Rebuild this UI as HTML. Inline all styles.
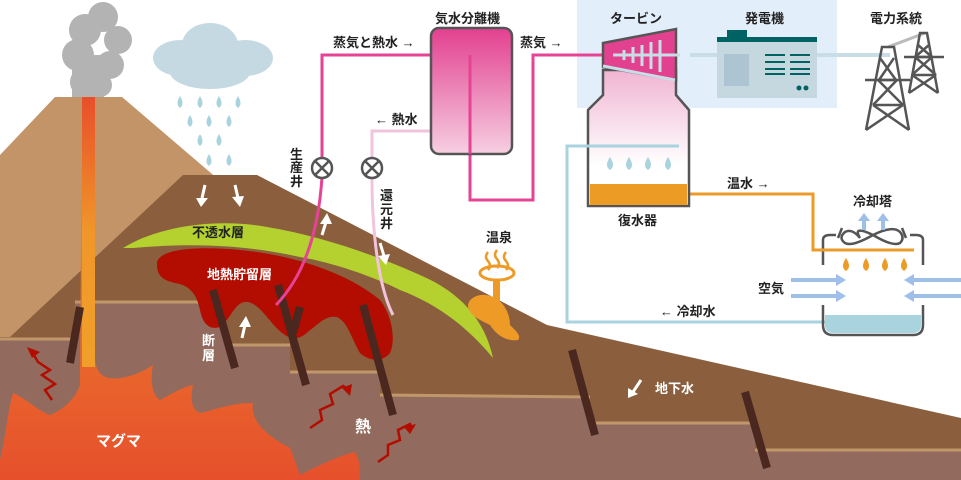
<!DOCTYPE html>
<html><head><meta charset="utf-8"><style>
html,body{margin:0;padding:0;background:#fff;}
svg{display:block}
text{font-family:"Liberation Sans","Noto Sans CJK JP",sans-serif;font-weight:bold;font-size:13px;fill:#222}
.w{fill:#fff}
</style></head><body>
<svg width="961" height="480" viewBox="0 0 961 480" xmlns="http://www.w3.org/2000/svg">
<defs>
<linearGradient id="sep" x1="0" y1="0" x2="0" y2="1"><stop offset="0" stop-color="#e2408f"/><stop offset="1" stop-color="#f6cfe2"/></linearGradient>
<linearGradient id="cond" x1="0" y1="0" x2="0" y2="1"><stop offset="0" stop-color="#f0b4d2"/><stop offset="0.7" stop-color="#fff"/></linearGradient>
<linearGradient id="cond2" x1="0" y1="0" x2="0" y2="1"><stop offset="0" stop-color="#e84f2a"/><stop offset="0.5" stop-color="#f0962a"/><stop offset="1" stop-color="#f0a02a"/></linearGradient>
<linearGradient id="mag" x1="0" y1="0" x2="0" y2="1"><stop offset="0" stop-color="#f0962a"/><stop offset="1" stop-color="#e6502c"/></linearGradient>
</defs>
<polygon points="0,155 55,97 122,97 260,215 260,340 0,340" fill="#c29467"/>
<polygon points="10,337 183,175 257,175 547,325 961,418 961,480 0,480 0,337" fill="#8b5f3d"/>
<polygon points="0,340 75,340 75,302 225,302 225,345 290,345 290,372 380,372 380,395 590,397 590,423 755,423 755,450 961,450 961,480 0,480" fill="#926b5e"/>
<g stroke="#c0976b" stroke-width="3" fill="none">
<line x1="0" y1="339" x2="75" y2="339"/><line x1="75" y1="302" x2="225" y2="302"/><line x1="225" y1="345" x2="290" y2="345"/><line x1="290" y1="372" x2="380" y2="372"/><line x1="380" y1="395" x2="590" y2="397"/><line x1="590" y1="423" x2="755" y2="423"/><line x1="755" y1="450" x2="961" y2="450"/>
</g>
<!-- magma -->
<path d="M82,97 L95,97 L95,360 C97,375 105,380 120,378 C135,376 145,370 153,365 C150,380 152,395 160,400 C170,395 180,388 193,385 C190,400 192,410 200,413 C215,410 230,403 253,403 C250,420 265,435 290,448 C295,460 298,470 300,475 C320,465 340,455 355,452 C360,460 360,470 360,480 L0,480 L0,460 C5,440 8,410 13,393 C25,398 40,412 50,415 C62,410 75,400 80,385 Z" fill="url(#mag)"/>
<rect x="82" y="97" width="13" height="270" fill="url(#cond2)"/>
<!-- smoke -->
<g fill="#b3b3b3"><circle cx="103" cy="17" r="15"/><circle cx="85" cy="30" r="16"/><circle cx="118" cy="40" r="14"/><circle cx="78" cy="55" r="16"/><circle cx="110" cy="65" r="14"/><circle cx="85" cy="82" r="15"/><circle cx="100" cy="85" r="12"/><rect x="72" y="55" width="32" height="42"/></g>
<!-- cloud -->
<g fill="#c5d9e2"><ellipse cx="180" cy="58" rx="27" ry="18"/><ellipse cx="210" cy="45" rx="28" ry="22"/><ellipse cx="245" cy="58" rx="28" ry="18"/><ellipse cx="210" cy="72" rx="40" ry="17"/></g>
<g fill="#a9d3de">
<path d="M180,96 q-5,8 0,12 q5,-4 0,-12z"/><path d="M200,96 q-5,8 0,12 q5,-4 0,-12z"/><path d="M219,96 q-5,8 0,12 q5,-4 0,-12z"/><path d="M238,96 q-5,8 0,12 q5,-4 0,-12z"/>
<path d="M190,115 q-5,8 0,12 q5,-4 0,-12z"/><path d="M209,115 q-5,8 0,12 q5,-4 0,-12z"/><path d="M229,115 q-5,8 0,12 q5,-4 0,-12z"/>
<path d="M200,134 q-5,8 0,12 q5,-4 0,-12z"/><path d="M219,134 q-5,8 0,12 q5,-4 0,-12z"/>
<path d="M209,154 q-5,8 0,12 q5,-4 0,-12z"/><path d="M229,154 q-5,8 0,12 q5,-4 0,-12z"/>
</g>
<path d="M157,265 C155,248 200,246 240,250 C300,256 350,275 380,300 C392,315 396,340 390,353 C383,362 370,362 360,353 C352,340 348,322 337,317 C325,315 318,325 310,330 C300,340 292,340 285,335 C270,325 262,305 248,302 C235,300 232,318 220,327 C210,330 203,325 200,310 C197,295 190,285 175,283 C162,280 157,275 157,265 Z" fill="#b30c00"/>
<path d="M123,248 C160,225 220,218 267,227 C320,236 370,253 420,275 C460,292 485,320 493,358 C470,330 440,305 400,290 C370,275 330,262 300,257 C250,246 200,242 133,248 Z" fill="#b5d12f"/>
<g stroke="#4a2820" stroke-width="8">
<line x1="80" y1="307" x2="70" y2="363"/><line x1="213" y1="290" x2="235" y2="368"/><line x1="278" y1="285" x2="306" y2="385"/><line x1="300" y1="307" x2="293" y2="333"/><line x1="363" y1="305" x2="393" y2="415"/><line x1="572" y1="350" x2="595" y2="435"/><line x1="745" y1="392" x2="767" y2="468"/>
</g>
<g stroke="#b30c00" stroke-width="2.5" fill="none">
<polyline points="52,400 45,390 55,384 42,375 50,370 38,362 32,352"/>
<polyline points="310,428 322,420 320,410 333,404 330,394 343,386 350,390"/>
<polyline points="378,462 388,455 388,445 400,440 398,430 410,424 412,428"/>
</g>
<g fill="#b30c00"><polygon points="27,347 40,352 32,358"/><polygon points="352,384 350,396 342,388"/><polygon points="416,424 410,434 404,427"/></g>
<g stroke="#fff" stroke-width="3" fill="#fff">
<line x1="205" y1="185" x2="202" y2="198"/><line x1="235" y1="185" x2="238" y2="198"/>
<line x1="322" y1="235" x2="326" y2="222"/><line x1="242" y1="338" x2="245" y2="325"/><line x1="380" y1="243" x2="384" y2="256"/>
<line x1="641" y1="380" x2="633" y2="392"/>
</g>
<g fill="#fff">
<polygon points="196,198 208,198 201,207"/><polygon points="232,197 244,196 240,207"/>
<polygon points="320,224 332,224 327,213"/><polygon points="239,327 251,327 246,316"/><polygon points="378,256 390,254 386,265"/>
<polygon points="628,388 638,394 628,398"/>
</g>
<!-- hot spring -->
<path d="M468,305 C470,295 485,292 495,298 C505,303 510,315 510,325 C515,330 522,336 518,340 C505,342 495,333 490,325 C480,320 468,315 468,305Z" fill="#ee9a26"/>
<rect x="493" y="280" width="7" height="25" fill="#ee9a26"/>
<ellipse cx="497" cy="273" rx="17" ry="7" fill="none" stroke="#ee9a26" stroke-width="3"/>
<g stroke="#ee9a26" stroke-width="2.5" fill="none"><path d="M488,252 q-4,5 0,9 q4,5 0,9"/><path d="M497,250 q-4,5 0,9 q4,5 0,9"/><path d="M506,252 q-4,5 0,9 q4,5 0,9"/></g>
<rect x="577" y="0" width="260" height="108" fill="#e3eefb"/>
<g fill="none" stroke-width="3">
<polyline points="431,55 322,55 322,160" stroke="#e64394"/>
<path d="M322,177 C318,240 300,280 276,305" stroke="#e64394"/>
<polyline points="431,131 372,131 372,160" stroke="#f2c3dc"/>
<path d="M372,177 C372,240 380,290 393,315" stroke="#f2c3dc"/>
<polyline points="470,55 470,200 533,200 533,55 605,55" stroke="#e64394"/>
<polyline points="679,146 567,146 567,322 830,322" stroke="#a8d3df"/>
<polyline points="689,194 813,194 813,250 914,250" stroke="#eb9b28"/>
<line x1="690" y1="55" x2="890" y2="55" stroke="#c8dde6" stroke-width="4"/>
</g>
<rect x="431" y="28" width="81" height="126" rx="8" fill="url(#sep)" stroke="#555" stroke-width="2.5"/>
<line x1="470" y1="55" x2="470" y2="154" stroke="#e64394" stroke-width="3"/>
<g stroke="#555" stroke-width="2.5" fill="#fff"><circle cx="322" cy="168" r="10"/><circle cx="372" cy="168" r="10"/></g>
<g stroke="#555" stroke-width="2.5"><path d="M315,161 L329,175 M329,161 L315,175"/><path d="M365,161 L379,175 M379,161 L365,175"/></g>
<path d="M603,70 L603,95 L588,110 L588,206 L689,206 L689,110 L676,95 L676,70 Z" fill="url(#cond)" stroke="#555" stroke-width="2.5"/>
<rect x="590" y="184" width="97" height="21" fill="#ec9b25"/>
<polyline points="679,146 567,146" stroke="#a8d3df" stroke-width="3"/>
<g fill="#a9d3de"><path d="M610,157 q-6,9 0,13 q6,-4 0,-13z"/><path d="M629,157 q-6,9 0,13 q6,-4 0,-13z"/><path d="M648,157 q-6,9 0,13 q6,-4 0,-13z"/><path d="M668,157 q-6,9 0,13 q6,-4 0,-13z"/></g>
<polygon points="603,43 676,29 676,80 603,67" fill="#e2418f" stroke="#555" stroke-width="2.5"/>
<g stroke="#c8dde6" stroke-width="3"><line x1="613" y1="55" x2="680" y2="55"/><line x1="624" y1="50" x2="624" y2="60"/><line x1="633" y1="47" x2="633" y2="63"/><line x1="642" y1="45" x2="642" y2="66"/><line x1="651" y1="42" x2="651" y2="69"/><line x1="660" y1="40" x2="660" y2="72"/><line x1="603" y1="66" x2="675" y2="80"/></g>
<rect x="717" y="40" width="100" height="58" fill="#c5d7df"/>
<rect x="717" y="37" width="100" height="5" fill="#006262"/><rect x="727" y="30" width="20" height="8" fill="#006262"/>
<rect x="724" y="54" width="25" height="32" fill="#adc5d2"/>
<g fill="#006262"><rect x="765" y="54" width="20" height="2"/><rect x="765" y="61" width="20" height="2"/><rect x="765" y="68" width="20" height="2"/><rect x="765" y="73" width="20" height="2"/><rect x="790" y="54" width="20" height="2"/><rect x="790" y="61" width="20" height="2"/><rect x="790" y="68" width="20" height="2"/><rect x="790" y="73" width="20" height="2"/><circle cx="799" cy="88" r="2.5"/><circle cx="806" cy="88" r="2.5"/></g>
<line x1="888" y1="47" x2="925" y2="33" stroke="#bbb" stroke-width="3"/>
<g stroke="#555" stroke-width="2.5" fill="none">
<polyline points="866,130 882,47 894,47 909,130"/><line x1="878" y1="80" x2="897" y2="80"/><line x1="873" y1="105" x2="903" y2="105"/><path d="M880,58 L896,80 M894,58 L879,80 M878,80 L903,105 M897,80 L873,105 M873,105 L909,130 M903,105 L866,130"/><line x1="865" y1="80" x2="910" y2="80"/>
<polyline points="909,93 920,33 927,33 938,93"/><line x1="915" y1="57" x2="932" y2="57"/><line x1="912" y1="75" x2="936" y2="75"/><path d="M918,45 L932,57 M929,45 L915,57 M915,57 L936,75 M932,57 L912,75 M912,75 L938,93 M936,75 L909,93"/><line x1="904" y1="57" x2="944" y2="57"/>
</g>
<path d="M823,265 L823,240 Q823,235 830,235 L836,235 M910,235 L916,235 Q923,235 923,240 L923,265" fill="none" stroke="#555" stroke-width="2.5"/>
<path d="M825,315 L921,315 L921,325 Q921,333 913,333 L833,333 Q825,333 825,325 Z" fill="#a8d3df"/>
<path d="M823,305 L823,325 Q823,335 833,335 L913,335 Q923,335 923,325 L923,305" fill="none" stroke="#555" stroke-width="2.5"/>
<line x1="813" y1="250" x2="914" y2="250" stroke="#eb9b28" stroke-width="3"/>
<path d="M860,238 Q852,228 845,232 Q838,238 845,243 Q852,247 873,235 Q893,225 900,232 Q905,238 900,243 Q893,247 873,235 Q852,225 860,238Z" fill="none" stroke="#555" stroke-width="2.5"/>
<path d="M838,238 L842,228 M906,238 L902,228" stroke="#555" stroke-width="2.5"/>
<g fill="#9dbfe8"><rect x="862" y="220" width="4" height="10"/><polygon points="858,221 870,221 864,213"/><rect x="881" y="220" width="4" height="10"/><polygon points="877,221 889,221 883,213"/></g>
<g fill="#ec9b25"><path d="M846,258 q-6,9 0,13 q6,-4 0,-13z"/><path d="M866,258 q-6,9 0,13 q6,-4 0,-13z"/><path d="M885,258 q-6,9 0,13 q6,-4 0,-13z"/><path d="M904,258 q-6,9 0,13 q6,-4 0,-13z"/></g>
<g stroke="#9dbfe8" stroke-width="4"><line x1="791" y1="280" x2="838" y2="280"/><line x1="791" y1="296" x2="838" y2="296"/><line x1="912" y1="280" x2="961" y2="280"/><line x1="912" y1="296" x2="961" y2="296"/></g>
<g fill="#9dbfe8"><polygon points="836,274 846,280 836,286"/><polygon points="836,290 846,296 836,302"/><polygon points="914,274 904,280 914,286"/><polygon points="914,290 904,296 914,302"/></g>
<text x="435" y="23">気水分離機</text>
<text x="333" y="47">蒸気と熱水 →</text>
<text x="375" y="124">← 熱水</text>
<text x="290" y="159">生</text><text x="290" y="172">産</text><text x="290" y="186">井</text>
<text x="380" y="200">還</text><text x="380" y="214">元</text><text x="380" y="228">井</text>
<text x="520" y="47">蒸気 →</text>
<text x="610" y="23">タービン</text>
<text x="745" y="23">発電機</text>
<text x="870" y="23">電力系統</text>
<text x="618" y="225">復水器</text>
<text x="727" y="188">温水 →</text>
<text x="853" y="206">冷却塔</text>
<text x="758" y="293">空気</text>
<text x="660" y="316">← 冷却水</text>
<text x="486" y="242">温泉</text>
<text x="655" y="393" class="w">地下水</text>
<text x="192" y="237">不透水層</text>
<text x="207" y="279" class="w">地熱貯留層</text>
<text x="202" y="345" class="w">断</text><text x="202" y="360" class="w">層</text>
<text x="355" y="432" class="w" style="font-size:16px">熱</text>
<text x="96" y="446" class="w" style="font-size:15px">マグマ</text>
</svg>
</body></html>
